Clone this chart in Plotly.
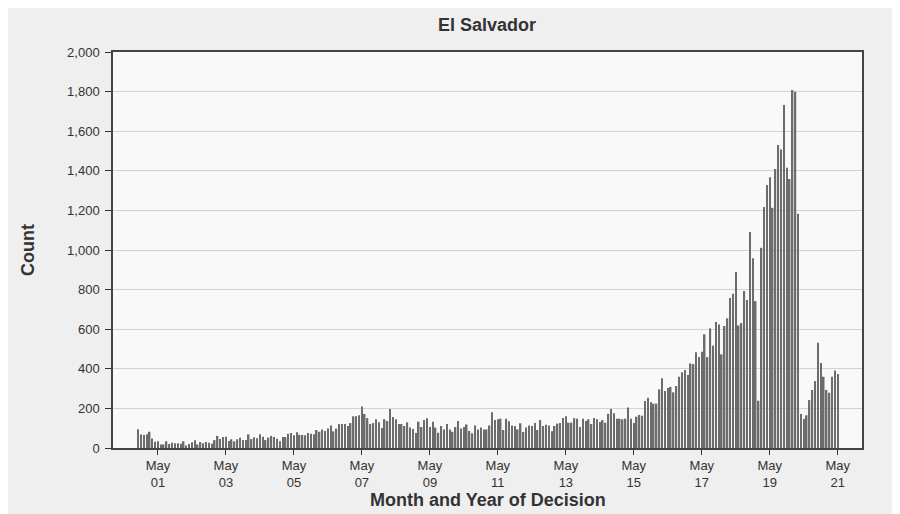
import pandas as pd
import plotly.graph_objects as go

start_month = "2000-10-01"
counts_2000 = [95, 68, 66]
counts_2001 = [70, 82, 48, 32, 34, 18, 18, 34, 20, 27, 24, 24]
counts_2002 = [22, 34, 13, 20, 29, 39, 18, 30, 24, 30, 27, 22]
counts_2003 = [40, 61, 45, 55, 57, 35, 44, 34, 44, 52, 40, 40]
counts_2004 = [69, 45, 54, 49, 69, 57, 40, 52, 61, 55, 47, 34]
counts_2005 = [55, 55, 72, 76, 64, 79, 66, 66, 64, 76, 72, 69]
counts_2006 = [91, 82, 94, 86, 98, 114, 84, 98, 121, 121, 121, 111]
counts_2007 = [126, 160, 160, 165, 210, 172, 151, 121, 126, 145, 130, 101]
counts_2008 = [145, 136, 197, 157, 145, 121, 121, 111, 130, 104, 96, 76]
counts_2009 = [133, 106, 141, 150, 106, 133, 103, 77, 111, 94, 121, 94]
counts_2010 = [82, 106, 136, 99, 106, 119, 86, 74, 114, 94, 103, 94]
counts_2011 = [94, 114, 180, 141, 145, 148, 91, 148, 135, 114, 111, 94]
counts_2012 = [125, 81, 103, 114, 111, 126, 91, 141, 111, 118, 114, 84]
counts_2013 = [111, 123, 126, 151, 160, 128, 128, 151, 148, 106, 148, 136]
counts_2014 = [145, 121, 151, 145, 131, 141, 128, 173, 197, 175, 148, 148]
counts_2015 = [145, 148, 205, 148, 126, 158, 167, 163, 237, 254, 231, 224]
counts_2016 = [224, 296, 352, 288, 303, 308, 281, 313, 360, 382, 394, 369]
counts_2017 = [427, 424, 483, 459, 486, 574, 459, 604, 517, 636, 624, 473]
counts_2018 = [616, 655, 757, 779, 889, 619, 631, 793, 747, 1091, 958, 742]
counts_2019 = [239, 1011, 1217, 1328, 1367, 1213, 1409, 1530, 1508, 1732, 1415, 1358]
counts_2020 = [1808, 1799, 1183, 172, 146, 165, 242, 293, 338, 532, 429, 360]
counts_2021 = [293, 279, 360, 392, 374]

counts = (counts_2000 + counts_2001 + counts_2002 + counts_2003 + counts_2004 +
          counts_2005 + counts_2006 + counts_2007 + counts_2008 + counts_2009 +
          counts_2010 + counts_2011 + counts_2012 + counts_2013 + counts_2014 +
          counts_2015 + counts_2016 + counts_2017 + counts_2018 + counts_2019 +
          counts_2020 + counts_2021)
months = pd.date_range(start_month, periods=len(counts), freq="MS")

tick_dates = ["2001-05-01", "2003-05-01", "2005-05-01", "2007-05-01", "2009-05-01",
              "2011-05-01", "2013-05-01", "2015-05-01", "2017-05-01", "2019-05-01",
              "2021-05-01"]
tick_labels = ["May<br>01", "May<br>03", "May<br>05", "May<br>07", "May<br>09",
               "May<br>11", "May<br>13", "May<br>15", "May<br>17", "May<br>19",
               "May<br>21"]
y_ticks = list(range(0, 2001, 200))

fig = go.Figure(go.Bar(
    x=months, y=counts,
    marker=dict(color="#6c6c6c", line=dict(width=0)),
))

font_family = "Liberation Sans, Arial, sans-serif"
fig.update_layout(
    width=892, height=506,
    margin=dict(l=105, r=38, t=44, b=66, autoexpand=False),
    paper_bgcolor="#efefef",
    plot_bgcolor="#f9f9f9",
    bargap=0.42,
    showlegend=False,
    font=dict(family=font_family, color="#333333", size=13),
    title=dict(text="<b>El Salvador</b>", x=0.5369, xanchor="center",
               y=1 - 17 / 506, yanchor="middle", font=dict(size=18, color="#333333")),
    annotations=[
        dict(text="<b>Month and Year of Decision</b>", xref="paper", yref="paper",
             x=0.5, y=-0.131, xanchor="center", yanchor="middle", showarrow=False,
             font=dict(size=18, color="#333333")),
        dict(text="<b>Count</b>", xref="paper", yref="paper",
             x=-0.1135, y=0.5, xanchor="center", yanchor="middle", showarrow=False,
             textangle=-90, font=dict(size=18, color="#333333")),
    ],
)
fig.update_xaxes(
    type="date", automargin=False,
    range=["2000-01-04", "2022-01-16"],
    tickvals=tick_dates, ticktext=tick_labels,
    ticks="outside", ticklen=5, tickcolor="#333333",
    showline=True, linecolor="#444444", linewidth=1.5, mirror=True,
    showgrid=False,
    tickfont=dict(size=13, color="#333333"),
)
fig.update_yaxes(
    range=[0, 2000], automargin=False,
    tickvals=y_ticks, tickformat=",",
    ticks="outside", ticklen=6, tickcolor="#333333",
    ticklabelstandoff=3,
    showline=True, linecolor="#444444", linewidth=1.5, mirror=True,
    showgrid=True, gridcolor="#d2d2d2", gridwidth=1,
    zeroline=False,
    tickfont=dict(size=13, color="#333333"),
)

fig.write_html("out.html")
